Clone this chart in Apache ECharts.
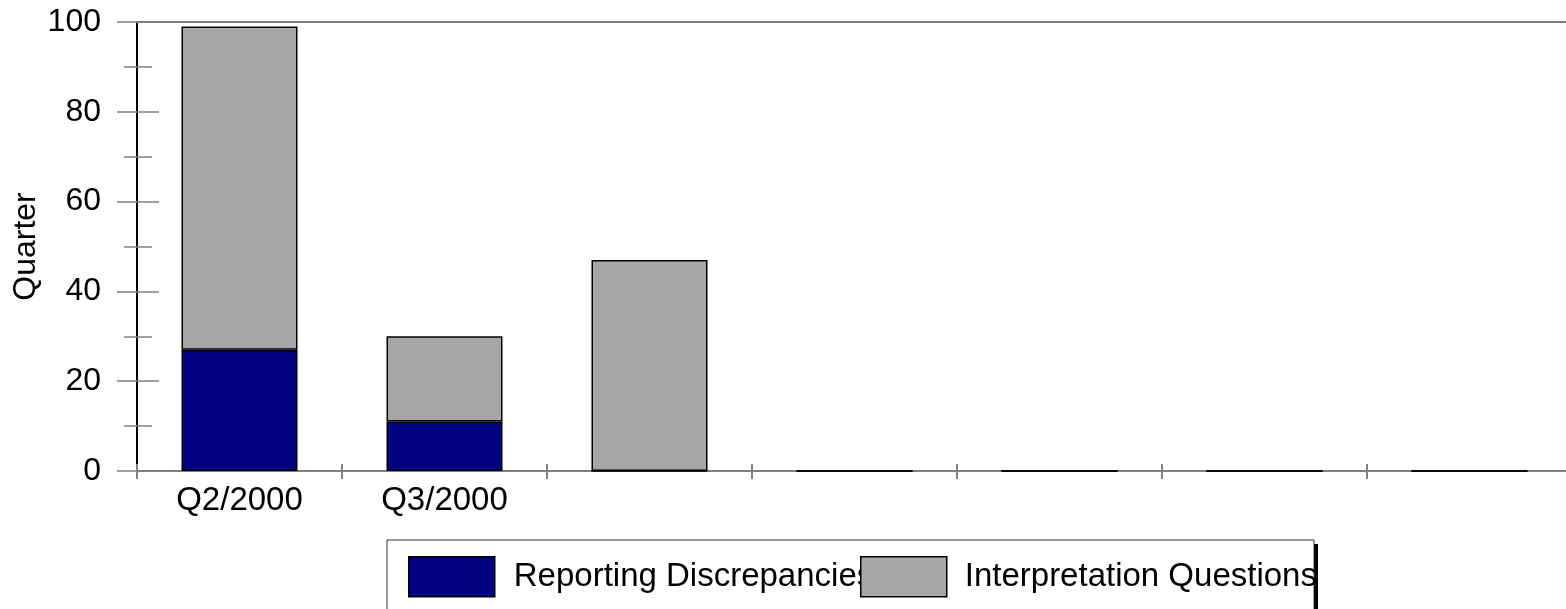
<!DOCTYPE html>
<html>
<head>
<meta charset="utf-8">
<script src="https://cdn.jsdelivr.net/npm/echarts@6/dist/echarts.min.js"></script>
<style>html,body{margin:0;padding:0;background:#fff;}#c{width:1566px;height:609px;}</style>
</head>
<body>
<div id="c"></div>
<script>
const categories = ['Q2/2000', 'Q3/2000', '', '', '', '', ''];
const reportingDiscrepancies = [27, 11, 0, 0, 0, 0, 0];
const interpretationQuestions = [72, 19, 47, 0, 0, 0, 0];
const yTicks = { min: 0, max: 100, interval: 20 };
const seriesNames = ['Reporting Discrepancies', 'Interpretation Questions'];

const FONT = '"Liberation Sans", Arial, sans-serif';
const chart = echarts.init(document.getElementById('c'), null, { renderer: 'canvas' });

const tickColor = '#808080';
const baseY = {
  type: 'value', min: yTicks.min, max: yTicks.max, interval: yTicks.interval,
  position: 'left', splitLine: { show: false }, minorSplitLine: { show: false }
};
const baseX = { type: 'category', data: categories, position: 'bottom', boundaryGap: true };

chart.setOption({
  animation: false,
  grid: { left: 137, top: 22, right: -6, bottom: 138, containLabel: false, outerBoundsMode: 'none' },
  xAxis: [
    Object.assign({}, baseX, {
      axisLine: { show: true, onZero: false, lineStyle: { color: tickColor, width: 2 } },
      axisTick: { show: true, interval: 0, length: 8, lineStyle: { color: tickColor, width: 2 } },
      axisLabel: { show: true, interval: 0, margin: 13, color: '#000', fontSize: 33, fontFamily: FONT }
    }),
    Object.assign({}, baseX, {
      axisLine: { show: false, onZero: false },
      axisTick: { show: true, inside: true, interval: 0, length: 7, lineStyle: { color: tickColor, width: 2 } },
      axisLabel: { show: false }
    }),
    Object.assign({}, baseX, {
      position: 'top',
      axisLine: { show: true, onZero: false, lineStyle: { color: tickColor, width: 2 } },
      axisTick: { show: false },
      axisLabel: { show: false }
    })
  ],
  yAxis: [
    Object.assign({}, baseY, {
      name: 'Quarter', nameLocation: 'middle', nameGap: 95, nameRotate: 90, nameMoveOverlap: false,
      nameTextStyle: { color: '#000', fontSize: 32, fontFamily: FONT },
      axisLine: { show: true, lineStyle: { color: '#000', width: 2 } },
      axisTick: { show: true, length: 20, lineStyle: { color: tickColor, width: 1.5 } },
      minorTick: { show: true, splitNumber: 2, length: 13, lineStyle: { color: tickColor, width: 1.5 } },
      axisLabel: { show: true, margin: 36, color: '#000', fontSize: 32, fontFamily: FONT }
    }),
    Object.assign({}, baseY, {
      axisLine: { show: false },
      axisTick: { show: true, inside: true, length: 22, lineStyle: { color: tickColor, width: 1.5 } },
      minorTick: { show: true, splitNumber: 2, length: 15, lineStyle: { color: tickColor, width: 1.5 } },
      axisLabel: { show: false }
    })
  ],
  legend: [
    {
      data: [seriesNames[0]], left: 408, top: 556, padding: 0,
      itemWidth: 86, itemHeight: 40, icon: 'rect',
      itemStyle: { borderColor: '#000', borderWidth: 1.5 },
      textStyle: { color: '#000', fontSize: 33, fontFamily: FONT, padding: [0, 0, 0, 14] }
    },
    {
      data: [seriesNames[1]], left: 860, top: 556, padding: 0,
      itemWidth: 86, itemHeight: 40, icon: 'rect',
      itemStyle: { borderColor: '#000', borderWidth: 1.5 },
      textStyle: { color: '#000', fontSize: 33, fontFamily: FONT, padding: [0, 0, 0, 13] }
    }
  ],
  graphic: [
    { type: 'rect', z: 0, shape: { x: 391, y: 544, width: 927, height: 120 }, style: { fill: '#000' } },
    { type: 'rect', z: 1, shape: { x: 387, y: 540, width: 927, height: 120 }, style: { fill: '#fff', stroke: '#333', lineWidth: 1 } }
  ],
  series: [
    {
      name: seriesNames[0], type: 'bar', stack: 'total', data: reportingDiscrepancies,
      xAxisIndex: 0, yAxisIndex: 0, barWidth: 116,
      itemStyle: { color: '#000080', borderColor: '#000', borderWidth: 1.5 }
    },
    {
      name: seriesNames[1], type: 'bar', stack: 'total', data: interpretationQuestions,
      xAxisIndex: 0, yAxisIndex: 0, barWidth: 116,
      itemStyle: { color: '#A6A6A6', borderColor: '#000', borderWidth: 1.5 }
    }
  ]
});
</script>
</body>
</html>
